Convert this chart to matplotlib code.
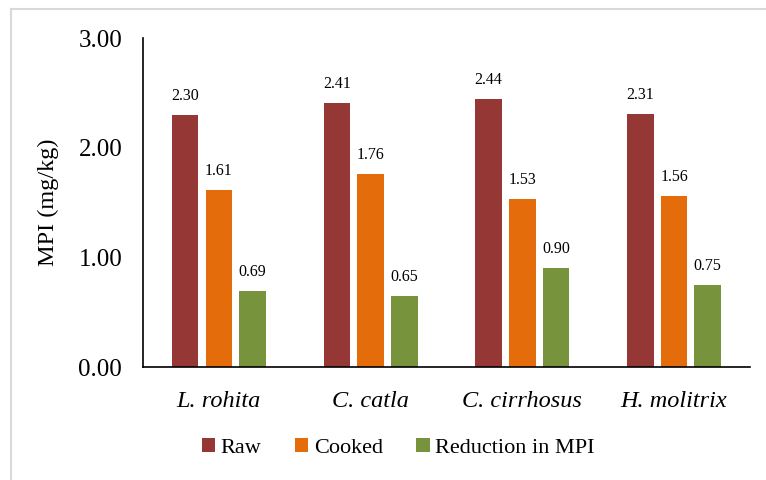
import numpy as np
import matplotlib
matplotlib.use('Agg')
import matplotlib.pyplot as plt
from matplotlib.lines import Line2D

plt.rcParams['font.family'] = ['Liberation Serif', 'DejaVu Serif']

# data
species = ['L. rohita', 'C. catla', 'C. cirrhosus', 'H. molitrix']
raw = [2.30, 2.41, 2.44, 2.31]
cooked = [1.61, 1.76, 1.53, 1.56]
reduction = [0.69, 0.65, 0.90, 0.75]
series_names = ['Raw', 'Cooked', 'Reduction in MPI']
colors = ['#953735', '#E46C0A', '#77933C']

fig = plt.figure(figsize=(7.66, 4.8), dpi=100)
ax = fig.add_axes([0.1867, 0.2354, 0.7923, 0.6854])

x = np.arange(len(species))
width = 0.175
step = 0.222
for i, (vals, name) in enumerate(zip([raw, cooked, reduction], series_names)):
    bars = ax.bar(x + (i - 1) * step, vals, width, color=colors[i], label=name)
    for b, v in zip(bars, vals):
        ax.text(b.get_x() + b.get_width() / 2, v + 0.1, '%.2f' % v,
                ha='center', va='bottom', fontsize=11.5)

ax.set_xlim(-0.5, 3.5)
ax.set_ylim(0, 3.0)
ax.set_yticks([0, 1, 2, 3])
ax.set_yticklabels(['%.2f' % t for t in [0, 1, 2, 3]], fontsize=18)
ax.set_xticks(x)
ax.set_xticklabels(species, fontsize=17.5, style='italic')
ax.tick_params(axis='both', length=0)
ax.tick_params(axis='y', pad=15)
ax.tick_params(axis='x', pad=17)
ax.set_ylabel('MPI (mg/kg)', fontsize=17.5, labelpad=14)

for s in ['top', 'right']:
    ax.spines[s].set_visible(False)
ax.spines['left'].set_linewidth(1.2)
ax.spines['bottom'].set_linewidth(1.2)

fig.legend(loc='center', bbox_to_anchor=(0.52, 0.066), ncol=3, frameon=False,
           fontsize=16, handlelength=0.6, handleheight=0.6, handletextpad=0.25,
           columnspacing=1.5)

# light grey frame around the chart (only top and left edges visible)
fig.add_artist(Line2D([0.0150, 0.0150], [0.0, 0.981], color='#d9d9d9', lw=1.5))
fig.add_artist(Line2D([0.0150, 1.0], [0.981, 0.981], color='#d9d9d9', lw=1.5))

fig.savefig('out.png', dpi=100)
